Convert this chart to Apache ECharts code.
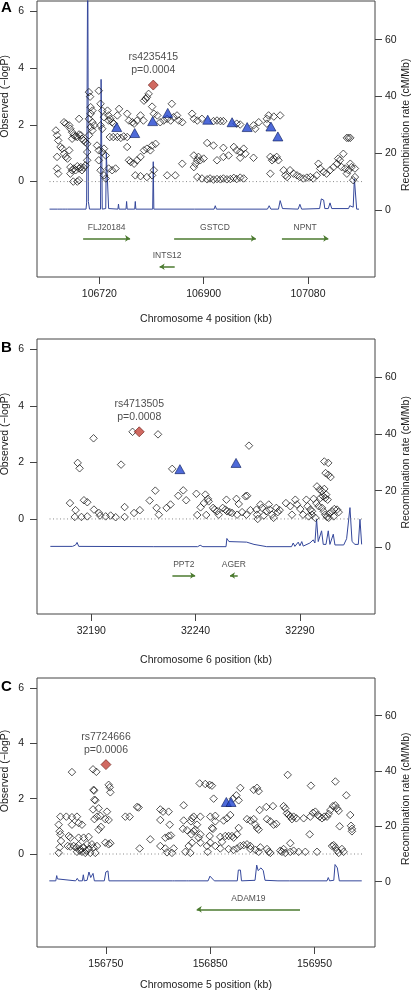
<!DOCTYPE html>
<html><head><meta charset="utf-8">
<script src="https://cdn.jsdelivr.net/npm/echarts@6/dist/echarts.min.js"></script>
<style>html,body{margin:0;padding:0;background:#fff}#c{width:413px;height:992px}</style>
</head><body><div id="c"></div>
<script>
// ===================== DATA =====================
// common axis limits (before R-style 4% padding)
const ylimLeft = [-3, 6];
const ylimRight = [-20, 70];
const leftTicks = [0, 2, 4, 6];
const rightTicks = [0, 20, 40, 60];

// ---------- Panel A : chromosome 4 ----------
const regionA = [106634, 107174];
const xTicksA = [106720, 106900, 107080];
const snpsA = [
[106645,1.80],[106647,1.63],[106649,1.45],[106659,2.09],[106662,2.04],[106668,1.98],[106670,1.86],[106673,1.74],
[106676,1.63],[106679,1.59],[106682,1.57],[106685,1.66],[106688,1.63],[106690,1.51],[106693,1.45],[106696,1.39],
[106685,2.21],[106673,1.51],[106653,1.22],[106656,1.16],[106659,0.98],[106662,0.87],[106668,1.10],[106665,0.81],
[106647,0.87],[106647,0.46],[106649,0.28],[106670,0.51],[106673,0.40],[106676,0.46],[106679,0.40],[106682,0.54],
[106685,0.46],[106688,0.51],[106690,0.40],[106693,0.49],[106696,0.57],[106699,0.75],[106699,1.04],[106682,0.0],
[106685,0.05],[106670,0.28],[106675,0.0],[106702,3.15],[106704,2.99],[106705,2.62],[106708,2.50],[106705,2.39],
[106702,2.21],[106708,2.09],[106705,1.92],[106711,1.98],[106708,1.80],[106702,1.63],[106699,1.33],[106719,3.20],
[106722,2.74],[106725,2.50],[106728,2.27],[106722,1.98],[106725,1.86],[106716,1.27],[106719,1.10],[106725,1.04],
[106728,1.16],[106731,0.92],[106719,0.75],[106722,0.40],[106728,0.22],[106731,0.11],[106734,2.50],[106736,2.33],
[106739,2.21],[106742,2.09],[106745,2.04],[106736,2.15],[106738,1.57],[106744,1.57],[106751,1.57],[106757,1.54],
[106762,1.59],[106768,1.57],[106754,2.56],[106751,2.33],[106736,0.46],[106742,0.40],[106748,0.46],[106768,2.39],
[106771,2.15],[106777,2.09],[106780,2.04],[106785,2.15],[106791,2.33],[106796,2.15],[106768,1.22],[106771,0.75],
[106774,0.69],[106780,0.63],[106785,0.75],[106791,0.87],[106797,1.10],[106802,1.16],[106808,1.10],[106811,1.27],
[106817,1.33],[106814,0.40],[106811,0.22],[106782,0.22],[106791,0.19],[106802,0.16],[106797,2.85],[106800,2.91],
[106802,2.97],[106805,3.09],[106811,2.64],[106814,2.39],[106820,2.33],[106825,2.09],[106831,2.15],[106837,2.21],
[106843,2.15],[106848,2.27],[106854,2.33],[106857,2.15],[106863,2.09],[106845,2.74],[106837,0.22],[106851,0.22],
[106863,0.63],[106883,0.51],[106886,0.63],[106889,0.75],[106883,0.92],[106891,0.87],[106894,0.75],[106900,0.81],
[106906,1.36],[106917,1.27],[106889,0.16],[106897,0.11],[106906,0.08],[106911,0.11],[106917,0.07],[106923,0.09],
[106929,0.08],[106934,0.11],[106940,0.08],[106946,0.09],[106952,0.13],[106957,0.09],[106963,0.14],[106969,0.11],
[106923,0.75],[106934,0.87],[106943,0.92],[106952,1.22],[106957,1.10],[106963,1.04],[106969,1.16],[106972,0.98],
[106963,0.84],[106986,0.84],[106934,1.19],[106880,2.39],[106883,2.21],[106889,2.15],[106897,2.21],[106917,2.13],
[106923,2.15],[106929,2.13],[106934,2.13],[106957,2.04],[106963,2.01],[106986,1.98],[106989,1.86],[106995,2.09],
[107009,2.21],[107012,2.33],[107021,2.29],[107032,2.33],[107009,2.04],[107015,0.87],[107018,0.75],[107021,0.81],
[107026,0.87],[107029,0.75],[107015,0.28],[107038,0.40],[107041,0.22],[107044,0.16],[107049,0.40],[107055,0.28],
[107061,0.22],[107066,0.16],[107072,0.11],[107078,0.14],[107084,0.16],[107089,0.11],[107095,0.22],[107098,0.63],
[107101,0.46],[107107,0.34],[107112,0.28],[107118,0.40],[107124,0.51],[107130,0.63],[107132,0.81],[107135,0.75],
[107138,0.51],[107141,0.98],[107144,0.46],[107147,0.28],[107150,0.40],[107153,0.63],[107155,0.51],[107161,0.46],
[107161,0.16],[107147,1.54],[107150,1.54],[107153,1.54],[107158,0.05]
];
const typedA = [[106750,1.92],[106781,1.71],[106812,2.13],[106838,2.42],[106907,2.18],[106949,2.09],[106975,1.92],[107016,1.94],[107028,1.59]];
const topA = [106813, 3.40];
const topLabelA = ['rs4235415', 'p=0.0004'];
const recombA = [
[106634,0.3],[106648,0.3],[106650,1.0],[106652,0.3],[106657,0.3],[106659,1.0],[106661,0.3],[106663,1.0],[106665,0.3],
[106697,0.3],[106698,2.5],[106700,95],[106701,3],[106703,0.3],[106722,0.3],[106723,46],[106725,0.3],[106731,0.5],
[106732,20],[106735,20],[106736,0.5],[106752,0.3],[106753,2.1],[106754,0.3],[106766,0.3],[106767,3],[106768,0.3],
[106781,0.3],[106782,3],[106783,0.3],[106812,0.3],[106813,17],[106814,0.3],[106884,0.3],[106885,0.8],[106886,0.3],
[106918,0.3],[106920,1.5],[106922,0.3],[107010,0.3],[107013,1.5],[107016,0.3],[107029,0.3],[107032,3.3],[107036,0.5],
[107063,0.3],[107066,2],[107069,0.3],[107100,0.5],[107103,3.9],[107107,3.5],[107109,0.5],[107115,0.5],[107118,2.5],
[107121,0.5],[107150,0.5],[107152,1.5],[107158,1],[107160,11],[107162,11],[107164,0.3],[107168,0.3]
];
const geneNamesA = ['FLJ20184', 'GSTCD', 'NPNT', 'INTS12'];
const geneStartA = [106692, 106849, 107035, 106824];
const geneEndA = [106773, 106990, 107115, 106850];
const geneStrandA = [1, 1, 1, -1];
const geneRowA = [-2, -2, -2, -3];

// ---------- Panel B : chromosome 6 ----------
const regionB = [32170, 32320];
const xTicksB = [32190, 32240, 32290];
const snpsB = [
[32209.8,3.08],[32222.0,2.99],[32191.1,2.85],[32183.5,1.98],[32184.4,1.79],[32204.3,1.92],[32228.8,1.77],[32265.6,2.59],
[32301.7,2.03],[32303.6,1.98],[32302.3,1.62],[32303.6,1.56],[32304.7,1.48],
[32179.8,0.56],[32182.5,0.31],[32182.1,0.07],[32186.5,0.66],[32188.1,0.59],[32185.3,0.07],[32188.1,0.09],[32191.3,0.33],
[32193.7,0.21],[32194.2,0.12],[32196.9,0.09],[32199.3,0.12],[32201.7,0.06],[32206.0,0.42],[32206.0,0.07],[32210.5,0.21],
[32213.3,0.31],[32218.0,0.65],[32220.7,1.00],[32221.3,0.39],[32222.4,0.15],[32226.1,0.39],[32228.0,0.51],[32231.7,0.82],
[32234.1,1.01],[32235.5,0.66],[32240.4,0.89],[32240.8,0.14],[32244.7,0.86],[32245.9,0.71],[32246.3,0.62],[32242.4,0.41],
[32244.0,0.56],[32245.1,0.14],[32248.4,0.39],[32249.1,0.33],[32250.3,0.27],[32251.1,0.15],[32253.0,0.39],[32254.3,0.33],
[32255.1,0.27],[32256.4,0.24],[32254.8,0.68],[32259.6,0.71],[32260.7,0.53],[32263.9,0.80],[32264.7,0.82],[32257.5,0.21],
[32259.9,0.15],[32262.3,0.24],[32264.4,0.15],[32266.3,0.31],[32269.2,0.33],[32269.5,0.15],[32269.8,0.00],[32271.1,0.51],
[32271.9,0.39],[32272.7,0.12],[32273.9,0.27],[32275.1,0.51],[32275.5,0.33],[32276.6,0.15],[32277.4,0.04],[32278.7,0.39],
[32279.4,0.24],[32280.3,0.31],[32283.3,0.56],[32285.4,0.45],[32286.2,0.15],[32287.8,0.68],[32288.6,0.51],[32290.2,0.35],
[32291.5,0.15],[32293.1,0.68],[32293.7,0.45],[32295.0,0.33],[32295.8,0.15],[32296.6,0.71],[32297.9,0.56],[32298.2,1.15],
[32299.5,1.04],[32300.6,0.98],[32301.7,1.06],[32302.6,0.86],[32299.8,0.74],[32299.0,0.45],[32300.6,0.39],[32301.4,0.27],
[32302.2,0.15],[32303.0,0.07],[32304.2,0.19],[32305.4,0.27],[32306.5,0.35],[32307.8,0.33],[32308.6,0.24],[32306.2,0.09],
[32303.8,0.04],[32297.4,0.04],[32295.8,0.27],[32294.2,0.09],[32301.1,0.80],[32302.2,0.74],[32303.3,0.68]
];
const typedB = [[32232.5,1.76],[32259.4,1.98]];
const topB = [32213.0, 3.08];
const topLabelB = ['rs4713505', 'p=0.0008'];
const recombB = [
[32170.4,0.3],[32181,0.3],[32182.5,0.8],[32183.2,1.7],[32184,0.3],[32220,0.2],[32241,0.2],[32242.2,0.7],[32243.5,0.2],
[32254.6,0.2],[32255.0,3.1],[32256,2.0],[32264.5,1.8],[32268,1.0],[32274.1,0.2],[32286,0.2],[32286.8,1.5],[32287.6,0.3],
[32289.2,1.8],[32290,0.5],[32290.9,2.0],[32291.6,0.4],[32294.8,1.5],[32296.4,2.6],[32297.2,1.5],[32298.0,9.9],[32298.8,2.0],
[32299.6,1.5],[32300.4,5.8],[32301.2,1.0],[32302.5,1.0],[32303.6,5.8],[32304.4,1.0],[32305.2,1.0],[32306.0,4.6],[32306.8,0.8],
[32311,0.8],[32312.4,3],[32314.0,14],[32315,2],[32316.4,1.0],[32318,1.0],[32318.8,9.9],[32319.6,1.0]
];
const geneNamesB = ['PPT2', 'AGER'];
const geneStartB = [32228.9, 32256.5];
const geneEndB = [32239.8, 32260.2];
const geneStrandB = [1, -1];
const geneRowB = [-2, -2];

// ---------- Panel C : chromosome 5 ----------
const regionC = [156696, 156996];
const xTicksC = [156750, 156850, 156950];
const snpsC = [
[156717.5,2.96],[156737.7,3.06],[156740.9,2.97],[156706.4,1.35],[156712.1,1.35],[156717.5,1.33],[156722.3,1.35],[156704.8,1.06],
[156705.7,0.82],[156706.4,0.71],[156707.0,0.47],[156705.7,0.24],[156704.8,0.04],[156714.4,0.65],[156716.0,0.59],[156713.4,0.29],
[156716.0,0.27],[156719.1,0.29],[156721.7,0.24],[156723.9,0.32],[156725.5,0.18],[156728.7,0.24],[156731.3,0.12],[156733.5,0.18],
[156735.1,0.04],[156730.3,0.04],[156727.1,0.08],[156724.9,0.12],[156722.3,0.08],[156717.5,1.06],[156723.9,1.12],[156727.1,1.06],
[156723.9,0.59],[156728.7,0.59],[156733.5,0.62],[156731.9,0.35],[156736.7,0.35],[156738.3,0.24],[156739.9,0.04],[156741.5,0.29],
[156738.3,2.32],[156739.0,1.96],[156739.9,1.94],[156737.7,1.61],[156739.0,1.26],[156741.5,1.35],[156743.1,1.65],[156744.7,1.38],
[156745.3,0.98],[156743.1,0.88],[156749.5,1.26],[156751.1,1.53],[156752.7,1.23],[156752.7,2.50],[156753.7,2.41],[156754.3,2.23],
[156749.5,0.41],[156752.7,0.35],[156754.3,0.39],[156768.7,1.35],[156772.8,1.35],[156779.9,1.70],[156781.4,1.68],[156782.4,0.20],
[156792.6,0.53],[156802.2,1.61],[156804.8,1.53],[156810.2,1.53],[156802.2,1.23],[156811.2,1.06],[156807.0,0.59],[156810.2,0.65],
[156812.4,0.67],[156802.2,0.29],[156807.0,0.20],[156808.6,0.06],[156813.4,0.04],[156815.0,0.20],[156824.6,1.76],[156824.6,1.21],
[156823.9,0.91],[156827.8,0.86],[156829.4,0.29],[156831.6,1.18],[156832.6,1.29],[156834.2,1.35],[156834.2,0.82],[156831.9,0.71],
[156835.8,0.88],[156837.4,1.06],[156840.6,1.35],[156840.6,0.71],[156839.0,0.59],[156840.6,0.41],[156832.6,0.41],[156826.2,0.08],
[156831.0,0.04],[156839.9,2.55],[156845.3,2.53],[156849.5,2.50],[156851.7,2.47],[156853.3,2.00],[156850.1,1.35],[156851.7,0.94],
[156852.7,0.91],[156849.5,0.65],[156850.1,0.41],[156846.9,0.29],[156847.6,0.08],[156854.9,1.38],[156854.9,1.18],[156859.7,0.62],
[156861.3,0.44],[156864.5,0.65],[156867.7,0.65],[156870.9,0.65],[156872.5,0.59],[156875.7,0.71],[156877.3,0.94],[156862.9,1.21],
[156866.1,1.29],[156869.3,1.41],[156867.7,0.18],[156872.5,0.15],[156875.7,0.20],[156878.9,0.29],[156882.1,0.32],[156885.3,0.35],
[156888.5,0.29],[156859.7,0.20],[156854.9,0.29],[156878.9,2.39],[156875.1,2.12],[156877.3,1.94],[156871.9,2.00],[156885.3,1.26],
[156888.5,1.21],[156891.7,1.26],[156893.3,1.06],[156894.9,0.94],[156896.5,0.88],[156891.7,2.32],[156894.9,2.39],[156896.5,2.27],
[156897.4,1.59],[156903.8,1.70],[156904.5,1.26],[156907.7,1.18],[156910.8,1.06],[156913.4,1.09],[156910.2,1.73],[156920.4,1.73],
[156922.0,1.65],[156923.6,1.47],[156925.2,1.41],[156926.8,1.35],[156928.4,1.26],[156930.0,1.35],[156932.6,1.29],[156939.6,1.29],
[156946.0,1.35],[156948.5,1.49],[156950.8,1.53],[156953.0,1.41],[156954.9,1.35],[156957.2,1.29],[156959.4,1.35],[156962.0,1.35],
[156963.6,1.45],[156965.2,1.59],[156967.7,1.73],[156970.0,1.76],[156971.6,1.65],[156973.2,1.56],[156974.1,1.00],[156976.3,0.18],
[156977.9,0.08],[156984.3,1.41],[156985.0,1.02],[156985.9,0.91],[156985.9,0.82],[156980.5,2.12],[156970.0,2.62],[156946.6,2.47],
[156924.3,2.86],[156945.4,0.71],[156926.8,0.39],[156888.5,0.18],[156893.3,0.15],[156896.5,0.08],[156898.1,0.24],[156904.5,0.18],
[156906.1,0.08],[156907.7,0.04],[156917.2,0.12],[156918.8,0.08],[156920.4,0.18],[156922.0,0.04],[156926.8,0.08],[156930.0,0.12],
[156934.8,0.08],[156941.2,0.08],[156952.4,0.08],[156966.8,0.29],[156968.4,0.32],[156970.0,0.24],[156971.6,0.12],[156973.2,0.04],
[156738.6,2.29]
];
const typedC = [[156865.5,1.88],[156870,1.88]];
const topC = [156750.1, 3.23];
const topLabelC = ['rs7724666', 'p=0.0006'];
const recombC = [
[156695.8,0.3],[156702.0,0.3],[156702.9,2.2],[156703.6,1.0],[156704.5,0.3],[156721,0.3],[156722.6,1.2],[156724,0.3],
[156727.5,0.3],[156728.4,2.5],[156729.3,0.3],[156732,0.5],[156733.8,3.5],[156735.5,1.5],[156737.7,3.0],[156739,0.3],
[156748.5,0.3],[156750,3.5],[156752,3.9],[156753,0.3],[156814,0.3],[156815,0.8],[156816,0.3],[156827,0.3],[156828,0.8],
[156829,0.3],[156848,0.3],[156849.8,2.0],[156851,2.5],[156854.0,0.3],[156876,0.3],[156877,4.2],[156879,4.2],[156880,0.3],
[156893,0.5],[156894.6,6.0],[156896,4],[156898.7,5],[156900.9,4],[156902.6,0.5],[156915,0.3],[156915.3,0.8],[156916,0.3],
[156926,0.3],[156926.5,0.8],[156927,0.3],[156962,0.3],[156963.2,1.5],[156964.5,0.3],[156968.5,0.5],[156969.7,6.2],
[156971.9,5],[156973.8,0.3],[156985,0.3],[156985.7,1.0],[156986.5,0.3],[156995.3,0.3]
];
const geneNamesC = ['ADAM19'];
const geneStartC = [156837.1];
const geneEndC = [156936.1];
const geneStrandC = [-1];
const geneRowC = [-2];

// ===================== CHART =====================
const panels = [
  {letter:'A', chr:4, region:regionA, xticks:xTicksA, snps:snpsA, typed:typedA, top:topA, topLabel:topLabelA, recomb:recombA,
   gn:geneNamesA, gs:geneStartA, ge:geneEndA, gd:geneStrandA, gr:geneRowA},
  {letter:'B', chr:6, region:regionB, xticks:xTicksB, snps:snpsB, typed:typedB, top:topB, topLabel:topLabelB, recomb:recombB,
   gn:geneNamesB, gs:geneStartB, ge:geneEndB, gd:geneStrandB, gr:geneRowB},
  {letter:'C', chr:5, region:regionC, xticks:xTicksC, snps:snpsC, typed:typedC, top:topC, topLabel:topLabelC, recomb:recombC,
   gn:geneNamesC, gs:geneStartC, ge:geneEndC, gd:geneStrandC, gr:geneRowC}
];
const layout = [
  {top:1, height:276, nameGap:37},
  {top:339, height:275, nameGap:41},
  {top:678, height:275, nameGap:33}
];
const FONT = '"Liberation Sans", Arial, Helvetica, sans-serif';
const TXT = '#222';
function pad(r){ const d = (r[1]-r[0])*0.04; return [r[0]-d, r[1]+d]; }
const plain = v => String(v);

const grids = [], xAxes = [], yAxes = [], series = [];
panels.forEach((p, i) => {
  const L = layout[i];
  grids.push({left:37, right:38, top:L.top, height:L.height, show:true, borderColor:'#444', borderWidth:1, backgroundColor:'transparent'});
  const xr = pad(p.region), yl = pad(ylimLeft), yr = pad(ylimRight);
  xAxes.push({
    type:'value', gridIndex:i, min:xr[0], max:xr[1], position:'bottom',
    name:'Chromosome ' + p.chr + ' position (kb)', nameLocation:'middle', nameGap:L.nameGap,
    nameTextStyle:{fontFamily:FONT, fontSize:10.5, color:TXT},
    axisLine:{show:false, onZero:false}, splitLine:{show:false},
    axisTick:{show:true, length:7, customValues:p.xticks, lineStyle:{color:'#444'}},
    axisLabel:{customValues:p.xticks, formatter:plain, margin:12, fontFamily:FONT, fontSize:10.5, color:TXT}
  });
  yAxes.push({
    type:'value', gridIndex:i, min:yl[0], max:yl[1], position:'left',
    axisLine:{show:false, onZero:false}, splitLine:{show:false},
    axisTick:{show:true, length:7, customValues:leftTicks, lineStyle:{color:'#444'}},
    axisLabel:{customValues:leftTicks, formatter:plain, margin:13, fontFamily:FONT, fontSize:10.5, color:TXT}
  });
  yAxes.push({
    type:'value', gridIndex:i, min:yr[0], max:yr[1], position:'right',
    axisLine:{show:false, onZero:false}, splitLine:{show:false},
    axisTick:{show:true, length:7, customValues:rightTicks, lineStyle:{color:'#444'}},
    axisLabel:{customValues:rightTicks, formatter:plain, margin:10, fontFamily:FONT, fontSize:10.5, color:TXT}
  });
  const yL = 2*i, yR = 2*i+1;
  // recombination rate
  series.push({type:'line', xAxisIndex:i, yAxisIndex:yR, data:p.recomb, showSymbol:false, symbol:'none',
    lineStyle:{color:'#34479b', width:1}, clip:true, z:1, animation:false, silent:true});
  // dotted zero line
  series.push({type:'line', xAxisIndex:i, yAxisIndex:yL, data:[[p.region[0],0],[p.region[1],0]], showSymbol:false, symbol:'none',
    lineStyle:{color:'#8a8a8a', width:1, type:[1,2.5]}, z:2, animation:false, silent:true});
  // genotyped SNPs (open diamonds)
  series.push({type:'scatter', xAxisIndex:i, yAxisIndex:yL, data:p.snps, symbol:'diamond', symbolSize:7.5,
    itemStyle:{color:'rgba(0,0,0,0)', borderColor:'#111', borderWidth:0.9}, z:3, animation:false, silent:true});
  // blue triangles
  series.push({type:'scatter', xAxisIndex:i, yAxisIndex:yL, data:p.typed, symbol:'triangle', symbolSize:[10,9],
    itemStyle:{color:'#2245cf', borderColor:'#0d1d5e', borderWidth:0.8}, z:4, animation:false, silent:true});
  // top SNP
  series.push({type:'scatter', xAxisIndex:i, yAxisIndex:yL, data:[p.top], symbol:'diamond', symbolSize:10,
    itemStyle:{color:'#c4443a', borderColor:'#6a1a14', borderWidth:0.8}, z:5, animation:false, silent:true,
    label:{show:true, position:'top', distance:3, formatter:p.topLabel.join('\n'), lineHeight:13,
      fontFamily:FONT, fontSize:10.5, color:TXT}});
  // genes (arrows)
  const geneLines = p.gn.map((n, k) => ({name:n, coords: p.gd[k] > 0
      ? [[p.gs[k], p.gr[k]], [p.ge[k], p.gr[k]]]
      : [[p.ge[k], p.gr[k]], [p.gs[k], p.gr[k]]]}));
  series.push({type:'lines', coordinateSystem:'cartesian2d', xAxisIndex:i, yAxisIndex:yL, data:geneLines,
    symbol:['none','arrow'], symbolSize:5, lineStyle:{color:'#4b7a2f', width:1.5, opacity:1, curveness:0},
    z:3, animation:false, silent:true});
  // gene labels
  series.push({type:'scatter', xAxisIndex:i, yAxisIndex:yL,
    data:p.gn.map((n, k) => ({name:n, value:[(p.gs[k]+p.ge[k])/2, p.gr[k]]})),
    symbolSize:1, itemStyle:{color:'rgba(0,0,0,0)'},
    label:{show:true, position:'top', distance:6, formatter:'{b}', fontFamily:FONT, fontSize:8.5, color:TXT},
    z:3, animation:false, silent:true});
});

const chart = echarts.init(document.getElementById('c'), null, {renderer:'canvas'});
chart.setOption({animation:false, grid:grids, xAxis:xAxes, yAxis:yAxes, series:series});

// axis titles and panel letters (positioned from the axes)
const graphics = [];
panels.forEach((p, i) => {
  const yMidL = chart.convertToPixel({yAxisIndex:2*i}, 3);
  const yMidR = chart.convertToPixel({yAxisIndex:2*i+1}, 30);
  const yTop = layout[i].top;
  graphics.push({type:'text', x:5.5, y:yMidL, rotation:Math.PI/2,
    style:{text:'Observed (\u2212logP)', font:'10.5px ' + FONT, fill:TXT, align:'center', verticalAlign:'middle',
      textAlign:'center', textVerticalAlign:'middle'}});
  graphics.push({type:'text', x:406.5, y:yMidR, rotation:Math.PI/2,
    style:{text:'Recombination rate (cM/Mb)', font:'10.5px ' + FONT, fill:TXT, align:'center', verticalAlign:'middle',
      textAlign:'center', textVerticalAlign:'middle'}});
  graphics.push({type:'text', x:6.5, y:yTop + (i === 0 ? 7 : 8.5),
    style:{text:p.letter, font:'bold 15px ' + FONT, fill:'#000', align:'center', verticalAlign:'middle',
      textAlign:'center', textVerticalAlign:'middle'}});
});
chart.setOption({graphic:graphics});
</script>
</body></html>
